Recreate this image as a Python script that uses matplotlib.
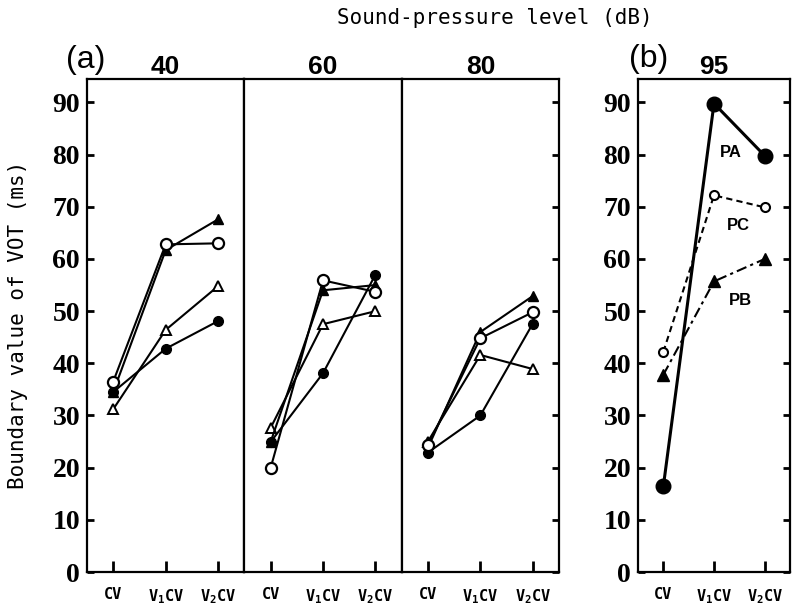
import matplotlib
matplotlib.use("Agg")
import matplotlib.pyplot as plt

# ---------------- data ----------------
categories = ["CV", r"V$_1$CV", r"V$_2$CV"]
levels_a = ["40", "60", "80"]
filled_circle = [[34.5, 42.8, 48.1], [24.9, 38.1, 57.0], [22.9, 30.0, 47.6]]
open_circle = [[36.5, 62.8, 63.0], [19.9, 55.9, 53.7], [24.3, 44.8, 49.8]]
filled_triangle = [[34.5, 61.7, 67.6], [24.9, 54.0, 55.0], [23.8, 46.0, 52.9]]
open_triangle = [[31.2, 46.4, 54.8], [27.6, 47.5, 50.0], [25.0, 41.6, 38.9]]
level_b = "95"
PA = [16.4, 89.8, 79.8]
PC = [42.2, 72.2, 69.9]
PB = [37.8, 55.7, 60.0]
y_ticks = [0, 10, 20, 30, 40, 50, 60, 70, 80, 90]
y_tick_labels = ["0", "1 0", "2 0", "3 0", "4 0", "5 0", "6 0", "7 0", "8 0", "9 0"]

plt.rcParams["mathtext.default"] = "regular"

W, H = 797, 607
fig = plt.figure(figsize=(W / 100, H / 100), dpi=100)

top_px, bot_px = 79, 572
a_left, a_right = 87, 559
b_left, b_right = 638, 790
YMAX = 94.5

tick_font = dict(family="Liberation Serif", weight="bold", size=20)
xtick_font = dict(family="DejaVu Sans Mono", weight="bold", size=11)
title_font = dict(family="Liberation Sans", weight="bold", size=19)

def make_ax(l, r):
    ax = fig.add_axes([l / W, 1 - bot_px / H, (r - l) / W, (bot_px - top_px) / H])
    ax.set_xlim(-0.5, 2.5)
    ax.set_ylim(0, YMAX)
    for s in ax.spines.values():
        s.set_linewidth(1.6)
    ax.set_xticks(range(len(categories)))
    ax.set_xticklabels(categories, fontdict=xtick_font)
    ax.tick_params(axis="x", direction="in", length=8, width=2, pad=11)
    ax.set_yticks(y_ticks)
    return ax

sub_w = (a_right - a_left) / 3
axes_a = []
for i, lev in enumerate(levels_a):
    l = a_left + i * sub_w
    ax = make_ax(l, l + sub_w)
    ax.tick_params(axis="y", direction="in", length=5, width=2,
                   left=(i == 0), right=(i == 2),
                   labelleft=(i == 0), labelright=False, pad=5)
    if i == 0:
        ax.set_yticklabels([t.replace(" ", "") for t in y_tick_labels], fontdict=tick_font)
    ax.set_title(lev, pad=3, fontdict=title_font)
    x = range(len(categories))
    lw, ms = 1.5, 7.5
    ax.plot(x, filled_circle[i], "-o", color="black", lw=lw, ms=7, mfc="black", mec="black")
    ax.plot(x, open_triangle[i], "-^", color="black", lw=lw, ms=7.5, mfc="white", mec="black", mew=1.4)
    ax.plot(x, filled_triangle[i], "-^", color="black", lw=lw, ms=7.5, mfc="black", mec="black")
    ax.plot(x, open_circle[i], "-o", color="black", lw=lw, ms=8, mfc="white", mec="black", mew=1.6)
    axes_a.append(ax)

axb = make_ax(b_left, b_right)
axb.tick_params(axis="y", direction="in", length=5, width=2,
                left=True, right=True, labelleft=True, pad=5)
axb.set_yticklabels([t.replace(" ", "") for t in y_tick_labels], fontdict=tick_font)
axb.set_title(level_b, pad=3, fontdict=title_font)
x = range(len(categories))
axb.plot(x, PA, "-o", color="black", lw=2.2, ms=10.5, mfc="black", mec="black")
axb.plot(x, PC, "--o", color="black", lw=1.5, ms=6.5, mfc="white", mec="black", mew=1.5,
         dashes=(3, 2))
axb.plot(x, PB, "-.^", color="black", lw=1.5, ms=8.5, mfc="black", mec="black",
         dashes=(5, 2, 1.5, 2))
lab_font = dict(family="Liberation Sans", weight="bold", size=12)
axb.text(1.34, 80.5, "PA", ha="center", va="center", fontdict=lab_font)
axb.text(1.48, 66.5, "PC", ha="center", va="center", fontdict=lab_font)
axb.text(1.52, 52.1, "PB", ha="center", va="center", fontdict=lab_font)

# panel letters and labels
fig.text(66 / W, 1 - 60 / H, "(a)", ha="left", va="center",
         family="Liberation Sans", size=23)
fig.text(629 / W, 1 - 59 / H, "(b)", ha="left", va="center",
         family="Liberation Sans", size=23)
fig.text(495 / W, 1 - 18 / H, "Sound-pressure level (dB)", ha="center", va="center",
         family="DejaVu Sans Mono", size=15)
fig.text(18 / W, 1 - 325 / H, "Boundary value of VOT (ms)", ha="center", va="center",
         rotation=90, family="DejaVu Sans Mono", size=15)

fig.savefig("out.png", dpi=100)
